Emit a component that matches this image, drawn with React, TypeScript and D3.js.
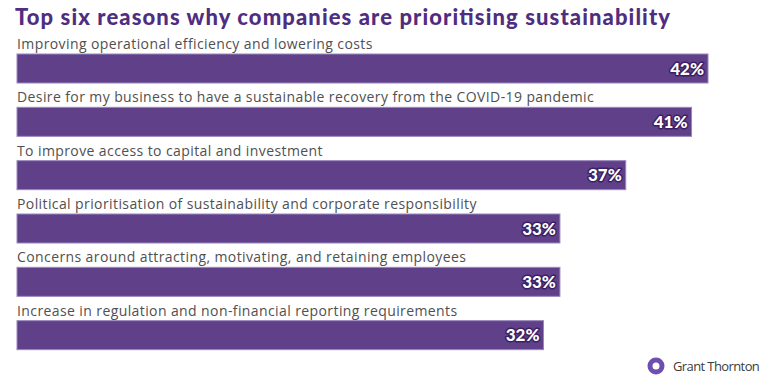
import React from "react";
import * as d3 from "d3";

const categories = [
  "Improving operational efficiency and lowering costs",
  "Desire for my business to have a sustainable recovery from the COVID-19 pandemic",
  "To improve access to capital and investment",
  "Political prioritisation of sustainability and corporate responsibility",
  "Concerns around attracting, motivating, and retaining employees",
  "Increase in regulation and non-financial reporting requirements",
];
const values = [42, 41, 37, 33, 33, 32];
const title = "Top six reasons why companies are prioritising sustainability";

export default function App() {
  const W = 769, H = 381;
  const x = d3.scaleLinear().domain([0, 42]).range([17, 708]);
  const y = d3.scaleBand<number>().domain(d3.range(categories.length)).range([54, 374]).paddingInner(0);
  const barH = 29;
  return (
    <svg width={W} height={H} style={{ position: "absolute", left: 0, top: 0 }}>
      <rect width={W} height={H} fill="#fff" />
      <text x={15} y={25} fontFamily="Lato, 'Open Sans', sans-serif" fontWeight={900} fontSize={22} fill="#4f2d7f"
        textLength={655} lengthAdjust="spacing">{title}</text>
      {categories.map((c, i) => {
        const top = y(i)!;
        return (
          <g key={i}>
            <text x={17} y={top - 5} fontFamily="'Open Sans', sans-serif" fontSize={14} letterSpacing={0.4} fill="#505050">{c}</text>
            <rect x={x(0)} y={top} width={x(values[i]) - x(0)} height={barH} fill="#5f4089" stroke="#9a86bd" strokeWidth={1} />
            <text x={x(values[i]) - 4} y={top + barH / 2 + 6} textAnchor="end" fontFamily="Lato, sans-serif" fontWeight={900} fontSize={17}
              fill="#fff" stroke="#3b1f63" strokeWidth={3} paintOrder="stroke" strokeLinejoin="round">{values[i]}%</text>
          </g>
        );
      })}
      <g>
        <circle cx={656} cy={366} r={6} fill="none" stroke="#6e4fb0" strokeWidth={5} />
        <text x={673} y={370.5} fontFamily="'Open Sans', sans-serif" fontSize={13} fill="#3c3c3c" letterSpacing={-0.6}>Grant Thornton</text>
      </g>
    </svg>
  );
}
